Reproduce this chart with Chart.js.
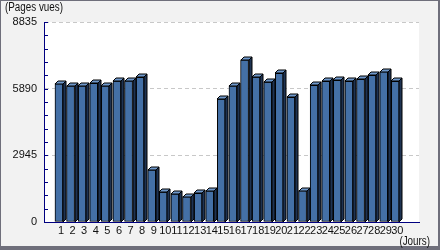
<!DOCTYPE html>
<html>
<head>
<meta charset="utf-8">
<script src="https://cdn.jsdelivr.net/npm/chart.js@4/dist/chart.umd.min.js"></script>
<style>
  html, body { margin: 0; padding: 0; background: #f2f2f2; }
  canvas { display: block; }
</style>
</head>
<body>
<canvas id="chart" width="440" height="250"></canvas>
<script>
// data
const days = [1, 2, 3, 4, 5, 6, 7, 8, 9, 10, 11, 12, 13, 14, 15,
              16, 17, 18, 19, 20, 21, 22, 23, 24, 25, 26, 27, 28, 29, 30];
const views = [6110, 6010, 6010, 6130, 6010, 6230, 6240, 6390, 2300, 1320,
               1240, 1120, 1270, 1380, 5430, 6010, 7160, 6400, 6180, 6570,
               5510, 1390, 6040, 6215, 6260, 6215, 6300, 6480, 6640, 6215];
const yTicks = [0, 2945, 5890, 8835];
const yMinorStep = 589;

const FONT = "'Liberation Sans', Arial, sans-serif";
const NAVY = '#000080';
const DEPTH = 3;

// squeezed text, the reference uses a narrow face
function narrowText(ctx, text, x, y, align) {
    ctx.save();
    ctx.font = '12px ' + FONT;
    ctx.textBaseline = 'middle';
    ctx.textAlign = align;
    ctx.translate(x, y);
    ctx.scale(0.82, 1);
    ctx.fillText(text, 0, 0);
    ctx.restore();
}

// frame, plot background, axis titles and inner ticks
const framePlugin = {
    id: 'frame',
    beforeDraw(chart) {
        const { ctx, chartArea: a } = chart;
        ctx.save();
        ctx.fillStyle = '#6f6f7b';
        ctx.fillRect(0, 0, chart.width, chart.height);
        ctx.fillStyle = '#f2f2f2';
        ctx.fillRect(1, 1, 437, 245);
        ctx.fillStyle = '#ffffff';
        ctx.fillRect(a.left, a.top, a.right - a.left, a.bottom - a.top);
        ctx.restore();
    },
    afterDraw(chart) {
        const { ctx, chartArea: a } = chart;
        const y = chart.scales.y;
        ctx.save();
        ctx.strokeStyle = NAVY;
        ctx.lineWidth = 1;
        for (let v = 0; v <= 8835 + 1; v += yMinorStep) {
            const py = Math.round(y.getPixelForValue(v)) + 0.5;
            ctx.beginPath();
            ctx.moveTo(a.left, py);
            ctx.lineTo(a.left + 4, py);
            ctx.stroke();
        }
        ctx.fillStyle = '#111';
        narrowText(ctx, '(Pages vues)', 5, 8, 'left');
        narrowText(ctx, '(Jours)', 430, 242, 'right');
        ctx.restore();
    }
};

// pseudo 3D: top cap and side face on each bar
const depthPlugin = {
    id: 'depth',
    afterDatasetsDraw(chart) {
        const { ctx } = chart;
        const meta = chart.getDatasetMeta(0);
        ctx.save();
        ctx.lineWidth = 1;
        ctx.strokeStyle = '#000';
        meta.data.forEach(bar => {
            const x0 = Math.round(bar.x - bar.width / 2);
            const x1 = Math.round(bar.x + bar.width / 2);
            const top = Math.round(bar.y);
            const bottom = Math.round(bar.base);
            // top cap
            ctx.fillStyle = '#6f98cb';
            ctx.beginPath();
            ctx.moveTo(x0, top);
            ctx.lineTo(x0 + DEPTH, top - DEPTH);
            ctx.lineTo(x1 + DEPTH, top - DEPTH);
            ctx.lineTo(x1, top);
            ctx.closePath();
            ctx.fill();
            ctx.stroke();
            // side
            ctx.fillStyle = '#1e3352';
            ctx.beginPath();
            ctx.moveTo(x1, top);
            ctx.lineTo(x1 + DEPTH, top - DEPTH);
            ctx.lineTo(x1 + DEPTH, bottom - DEPTH);
            ctx.lineTo(x1, bottom);
            ctx.closePath();
            ctx.fill();
            ctx.stroke();
        });
        ctx.restore();
    }
};

new Chart(document.getElementById('chart'), {
    type: 'bar',
    data: {
        datasets: [{
            data: days.map((d, i) => ({ x: d, y: views[i] })),
            backgroundColor: '#4470a6',
            borderColor: '#000',
            borderWidth: 1,
            borderSkipped: false,
            barThickness: 8
        }]
    },
    options: {
        responsive: false,
        animation: false,
        devicePixelRatio: 1,
        layout: { padding: { left: 0, right: 21, top: 22, bottom: 0 } },
        plugins: {
            legend: { display: false },
            tooltip: { enabled: false }
        },
        scales: {
            x: {
                type: 'linear',
                min: 0.25,
                max: 31.5,
                afterBuildTicks: s => { s.ticks = days.map(v => ({ value: v })); },
                afterFit: s => { s.height = 28; },
                grid: { display: false, drawTicks: false },
                border: { color: NAVY, width: 1 },
                ticks: {
                    autoSkip: false,
                    maxRotation: 0,
                    minRotation: 0,
                    padding: 2,
                    labelOffset: 2,
                    color: '#111',
                    font: { family: FONT, size: 11 },
                    callback: v => String(v)
                }
            },
            y: {
                min: 0,
                max: 8835,
                afterBuildTicks: s => { s.ticks = yTicks.map(v => ({ value: v })); },
                afterFit: s => { s.width = 44; },
                grid: {
                    drawTicks: false,
                    color: ctx => ctx.tick && ctx.tick.value === 0 ? 'rgba(0,0,0,0)' : '#c8c8c8'
                },
                border: { color: NAVY, width: 1, dash: [4, 3] },
                ticks: {
                    padding: 7,
                    color: '#111',
                    font: { family: FONT, size: 11 },
                    callback: v => String(v)
                }
            }
        }
    },
    plugins: [framePlugin, depthPlugin]
});
</script>
</body>
</html>
